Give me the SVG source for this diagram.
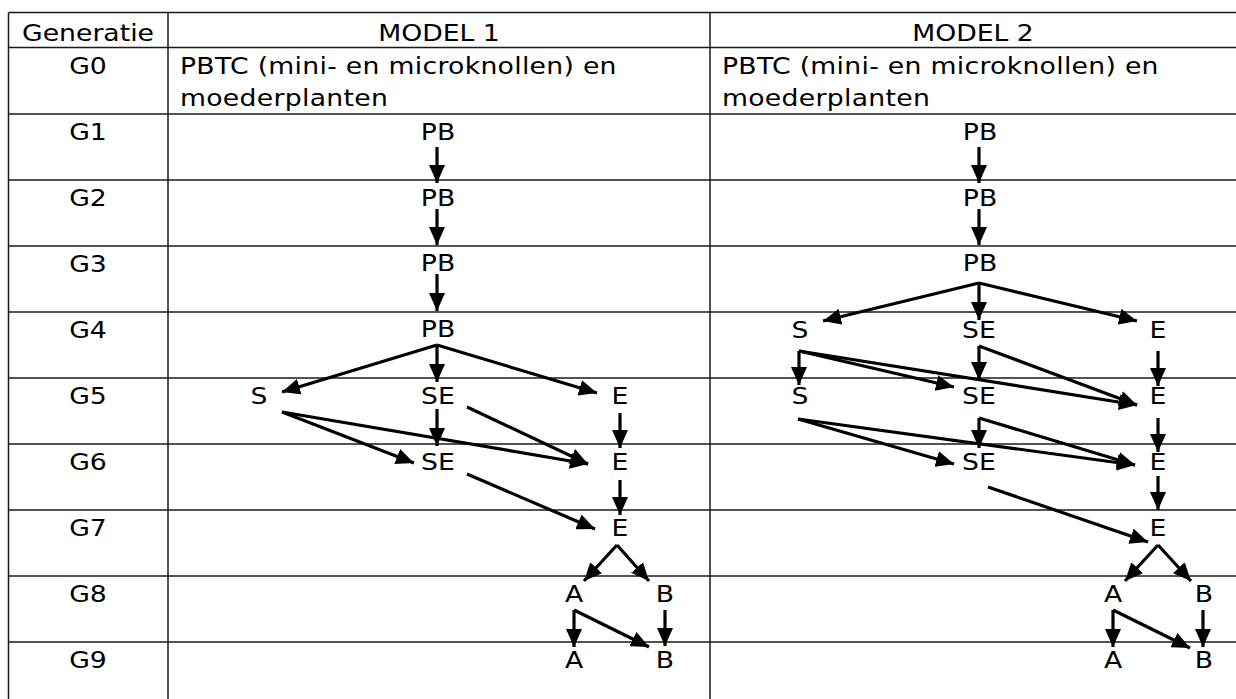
<svg xmlns="http://www.w3.org/2000/svg" width="1236" height="699" viewBox="0 0 1236 699">
<style>
text{font-family:"DejaVu Sans","Verdana",sans-serif;font-size:23px;fill:#000}
.c{text-anchor:middle}
.w{letter-spacing:0.25px}
.grid line{stroke:#1a1a1a;stroke-width:1.5}
.conn path{stroke:#000;stroke-width:3.2;fill:none;marker-end:url(#ah)}
</style>
<defs>
<marker id="ah" viewBox="0 0 18 16" refX="18" refY="8" markerWidth="18" markerHeight="16" markerUnits="userSpaceOnUse" orient="auto"><path d="M0,0 L18,8 L0,16 z" fill="#000"/></marker>
</defs>
<rect width="1236" height="699" fill="#fff"/>
<g id="table" class="grid">
<line x1="8.5" y1="12.5" x2="1236" y2="12.5"/>
<line x1="8.5" y1="47.5" x2="1236" y2="47.5"/>
<line x1="8.5" y1="114" x2="1236" y2="114"/>
<line x1="8.5" y1="180" x2="1236" y2="180"/>
<line x1="8.5" y1="246" x2="1236" y2="246"/>
<line x1="8.5" y1="312" x2="1236" y2="312"/>
<line x1="8.5" y1="378" x2="1236" y2="378"/>
<line x1="8.5" y1="444" x2="1236" y2="444"/>
<line x1="8.5" y1="510" x2="1236" y2="510"/>
<line x1="8.5" y1="576" x2="1236" y2="576"/>
<line x1="8.5" y1="642" x2="1236" y2="642"/>
<line x1="8.5" y1="12.5" x2="8.5" y2="699"/>
<line x1="168" y1="12.5" x2="168" y2="699"/>
<line x1="710" y1="12.5" x2="710" y2="699"/>
</g>
<g id="labels">
<text class="c" transform="translate(88,41) scale(1.16,1)">Generatie</text>
<text class="c" transform="translate(439,41) scale(1.16,1)">MODEL 1</text>
<text class="c" transform="translate(973,41) scale(1.16,1)">MODEL 2</text>
<text class="c" transform="translate(88,74) scale(1.16,1)">G0</text>
<text class="c" transform="translate(88,140) scale(1.16,1)">G1</text>
<text class="c" transform="translate(88,206) scale(1.16,1)">G2</text>
<text class="c" transform="translate(88,272) scale(1.16,1)">G3</text>
<text class="c" transform="translate(88,338) scale(1.16,1)">G4</text>
<text class="c" transform="translate(88,404) scale(1.16,1)">G5</text>
<text class="c" transform="translate(88,470) scale(1.16,1)">G6</text>
<text class="c" transform="translate(88,536) scale(1.16,1)">G7</text>
<text class="c" transform="translate(88,602) scale(1.16,1)">G8</text>
<text class="c" transform="translate(88,668) scale(1.16,1)">G9</text>
<text class="w" transform="translate(180,74) scale(1.16,1)">PBTC (mini- en microknollen) en</text>
<text class="w" transform="translate(180,106) scale(1.16,1)">moederplanten</text>
<text class="w" transform="translate(722,74) scale(1.16,1)">PBTC (mini- en microknollen) en</text>
<text class="w" transform="translate(722,106) scale(1.16,1)">moederplanten</text>
</g>
<g id="m1-g1-pb"><text class="c" transform="translate(438,140) scale(1.16,1)">PB</text></g>
<g id="m1-g2-pb"><text class="c" transform="translate(438,206) scale(1.16,1)">PB</text></g>
<g id="m1-g3-pb"><text class="c" transform="translate(438,271) scale(1.16,1)">PB</text></g>
<g id="m1-g4-pb"><text class="c" transform="translate(438,337) scale(1.16,1)">PB</text></g>
<g id="m1-g5-s"><text class="c" transform="translate(259,404) scale(1.16,1)">S</text></g>
<g id="m1-g5-se"><text class="c" transform="translate(438,404) scale(1.16,1)">SE</text></g>
<g id="m1-g5-e"><text class="c" transform="translate(620,404) scale(1.16,1)">E</text></g>
<g id="m1-g6-se"><text class="c" transform="translate(438,470) scale(1.16,1)">SE</text></g>
<g id="m1-g6-e"><text class="c" transform="translate(620,470) scale(1.16,1)">E</text></g>
<g id="m1-g7-e"><text class="c" transform="translate(620,536) scale(1.16,1)">E</text></g>
<g id="m1-g8-a"><text class="c" transform="translate(574,602) scale(1.16,1)">A</text></g>
<g id="m1-g8-b"><text class="c" transform="translate(665,602) scale(1.16,1)">B</text></g>
<g id="m1-g9-a"><text class="c" transform="translate(574,668) scale(1.16,1)">A</text></g>
<g id="m1-g9-b"><text class="c" transform="translate(665,668) scale(1.16,1)">B</text></g>
<g id="m2-g1-pb"><text class="c" transform="translate(980,140) scale(1.16,1)">PB</text></g>
<g id="m2-g2-pb"><text class="c" transform="translate(980,206) scale(1.16,1)">PB</text></g>
<g id="m2-g3-pb"><text class="c" transform="translate(980,271) scale(1.16,1)">PB</text></g>
<g id="m2-g4-s"><text class="c" transform="translate(800,338) scale(1.16,1)">S</text></g>
<g id="m2-g4-se"><text class="c" transform="translate(979,338) scale(1.16,1)">SE</text></g>
<g id="m2-g4-e"><text class="c" transform="translate(1158,338) scale(1.16,1)">E</text></g>
<g id="m2-g5-s"><text class="c" transform="translate(800,404) scale(1.16,1)">S</text></g>
<g id="m2-g5-se"><text class="c" transform="translate(979,404) scale(1.16,1)">SE</text></g>
<g id="m2-g5-e"><text class="c" transform="translate(1158,404) scale(1.16,1)">E</text></g>
<g id="m2-g6-se"><text class="c" transform="translate(979,470) scale(1.16,1)">SE</text></g>
<g id="m2-g6-e"><text class="c" transform="translate(1158,470) scale(1.16,1)">E</text></g>
<g id="m2-g7-e"><text class="c" transform="translate(1158,536) scale(1.16,1)">E</text></g>
<g id="m2-g8-a"><text class="c" transform="translate(1113,602) scale(1.16,1)">A</text></g>
<g id="m2-g8-b"><text class="c" transform="translate(1204,602) scale(1.16,1)">B</text></g>
<g id="m2-g9-a"><text class="c" transform="translate(1113,668) scale(1.16,1)">A</text></g>
<g id="m2-g9-b"><text class="c" transform="translate(1204,668) scale(1.16,1)">B</text></g>
<g id="connectors" class="conn">
<path d="M437,147 L437,183"/>
<path d="M437,209 L437,245"/>
<path d="M437,274 L437,311"/>
<path d="M437,345 L282,392"/>
<path d="M437,345 L437,382"/>
<path d="M437,345 L597,393"/>
<path d="M282,412 L414,463"/>
<path d="M282,412 L588,464"/>
<path d="M437,409 L437,446"/>
<path d="M467,407 L588,464"/>
<path d="M620,413 L620,448"/>
<path d="M620,480 L620,515"/>
<path d="M467,474 L595,529"/>
<path d="M617,545 L584,581"/>
<path d="M617,545 L649,581"/>
<path d="M574,610 L574,647"/>
<path d="M574,610 L649,647"/>
<path d="M665,610 L665,646"/>
<path d="M979,147 L979,183"/>
<path d="M979,209 L979,245"/>
<path d="M979,283 L823,321"/>
<path d="M979,283 L979,320"/>
<path d="M979,283 L1137,321"/>
<path d="M799,351 L799,385"/>
<path d="M799,351 L954,387"/>
<path d="M799,351 L1137,405"/>
<path d="M979,346 L979,380"/>
<path d="M979,346 L1137,405"/>
<path d="M1158,351 L1158,386"/>
<path d="M798,419 L954,464"/>
<path d="M798,419 L1135,465"/>
<path d="M979,418 L979,448"/>
<path d="M979,418 L1135,465"/>
<path d="M1158,418 L1158,452"/>
<path d="M1158,476 L1158,510"/>
<path d="M988,487 L1148,542"/>
<path d="M1158,545 L1125,581"/>
<path d="M1158,545 L1191,581"/>
<path d="M1113,610 L1113,647"/>
<path d="M1113,610 L1190,648"/>
<path d="M1203,610 L1203,647"/>
</g>
</svg>
